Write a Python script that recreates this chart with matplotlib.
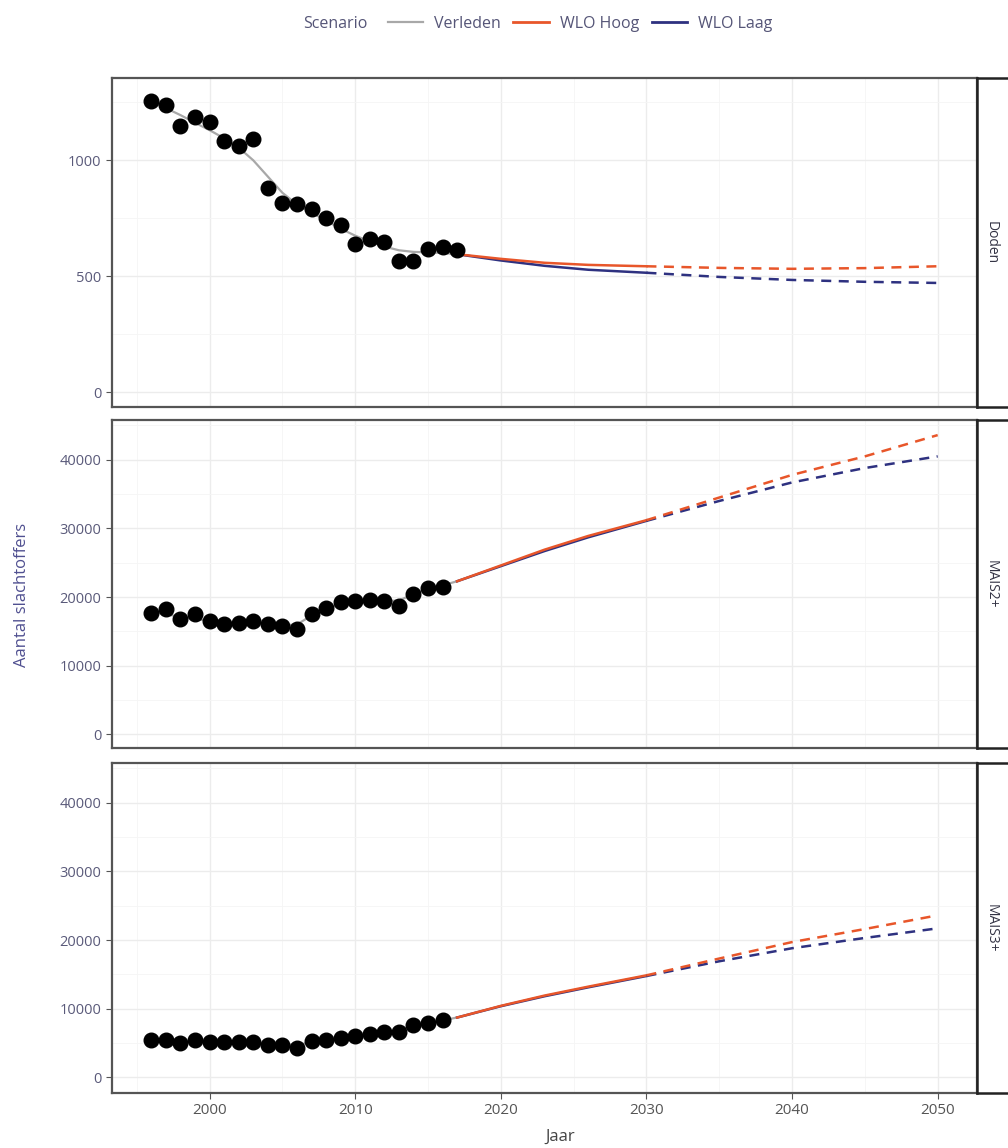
import numpy as np
import matplotlib
matplotlib.use("Agg")
import matplotlib.pyplot as plt
from matplotlib.lines import Line2D

plt.rcParams["font.family"] = ["Open Sans", "DejaVu Sans"]

# ── Observed data ──────────────────────────────────────────────────────────────
years_doden = list(range(1996, 2018))
doden = [1254, 1237, 1148, 1186, 1167, 1083, 1063, 1090, 882, 816, 810,
         790, 750, 720, 639, 660, 648, 565, 565, 619, 626, 612]

years_mais = list(range(1996, 2017))
mais2 = [17700, 18280, 16730, 17600, 16480, 16000, 16240, 16480, 16000, 15850,
         15270, 17600, 18430, 19250, 19390, 19640, 19490, 18670, 20510, 21330,
         21430]
mais3 = [5460, 5460, 4960, 5460, 5110, 5110, 5110, 5110, 4630, 4730, 4290,
         5210, 5460, 5690, 5940, 6230, 6570, 6570, 7550, 7940, 8280]

# ── Verleden (smoothed history) ───────────────────────────────────────────────
years_hist = list(range(1996, 2018))
hist_doden = [1255, 1225, 1195, 1162, 1130, 1095, 1055, 1000, 930, 860, 810,
              775, 740, 705, 675, 650, 628, 612, 605, 603, 600, 595]
hist_mais2 = [17900, 17500, 17100, 16800, 16500, 16300, 16200, 16200, 16100,
              15900, 16000, 17300, 18300, 19000, 19400, 19500, 19400, 19500,
              20400, 21200, 21700, 22300]
hist_mais3 = [5400, 5350, 5250, 5250, 5150, 5100, 5100, 5050, 4900, 4800, 4700,
              5100, 5400, 5700, 5950, 6250, 6550, 6800, 7450, 7950, 8300, 8700]

# ── WLO scenarios ─────────────────────────────────────────────────────────────
years_solid = [2017, 2020, 2023, 2026, 2030]
years_dash = [2030, 2035, 2040, 2045, 2050]

hoog_doden = [595, 575, 558, 549, 543, 536, 532, 535, 543]
laag_doden = [595, 568, 545, 528, 515, 497, 484, 476, 471]
hoog_mais2 = [22300, 24600, 26900, 28900, 31200, 34500, 37800, 40500, 43600]
laag_mais2 = [22300, 24500, 26700, 28700, 31100, 34000, 36700, 38800, 40500]
hoog_mais3 = [8700, 10400, 11900, 13200, 14850, 17300, 19700, 21600, 23600]
laag_mais3 = [8700, 10350, 11800, 13100, 14750, 16900, 18800, 20300, 21700]

C_GRAY = "#a8a8a8"
C_HOOG = "#e8562a"
C_LAAG = "#2e3180"
C_TICK = "#5a5a7a"

panels = [
    ("Doden", years_doden, doden, hist_doden, hoog_doden, laag_doden,
     (-64, 1355), [0, 500, 1000], [250, 750, 1250]),
    ("MAIS2+", years_mais, mais2, hist_mais2, hoog_mais2, laag_mais2,
     (-2000, 45800), [0, 10000, 20000, 30000, 40000], [5000, 15000, 25000, 35000, 45000]),
    ("MAIS3+", years_mais, mais3, hist_mais3, hoog_mais3, laag_mais3,
     (-2300, 45800), [0, 10000, 20000, 30000, 40000], [5000, 15000, 25000, 35000, 45000]),
]

W, H = 1008, 1148
fig = plt.figure(figsize=(W / 100, H / 100), dpi=100)

boxes = [(78, 407), (420, 748), (763, 1093)]
x_left, x_right = 112, 977

for (name, yrs, obs, hist, hoog, laag, ylim, yticks, yminor), (top, bot) in zip(panels, boxes):
    ax = fig.add_axes([x_left / W, 1 - bot / H, (x_right - x_left) / W, (bot - top) / H])
    ax.set_xlim(1993.3, 2052.7)
    ax.set_ylim(*ylim)
    ax.set_xticks([2000, 2010, 2020, 2030, 2040, 2050])
    ax.set_xticks([1995, 2005, 2015, 2025, 2035, 2045], minor=True)
    ax.set_yticks(yticks)
    ax.set_yticks(yminor, minor=True)
    ax.grid(True, which="major", color="#ececec", lw=1.0)
    ax.grid(True, which="minor", color="#f5f5f5", lw=0.6)
    ax.set_axisbelow(True)

    ax.plot(years_hist, hist, color=C_GRAY, lw=1.6, zorder=2)
    ax.plot(years_solid, laag[:5], color=C_LAAG, lw=1.8, zorder=3)
    ax.plot(years_solid, hoog[:5], color=C_HOOG, lw=1.8, zorder=3)
    ax.plot(years_dash, laag[4:], color=C_LAAG, lw=1.8, ls=(0, (4, 3)), zorder=3)
    ax.plot(years_dash, hoog[4:], color=C_HOOG, lw=1.8, ls=(0, (4, 3)), zorder=3)
    ax.plot(yrs, obs, "o", color="black", ms=10.5, zorder=4)

    for s in ax.spines.values():
        s.set_color("#555555")
        s.set_linewidth(1.6)
    ax.tick_params(which="minor", length=0)
    ax.tick_params(which="major", length=4, color="#555555", labelsize=10.5,
                   labelcolor=C_TICK)
    ax.tick_params(axis="x", labelsize=11, labelcolor="#555555")
    if name != "MAIS3+":
        ax.tick_params(axis="x", which="major", length=0, labelbottom=False)

    # right-side strip
    sx = fig.add_axes([x_right / W, 1 - bot / H, 40 / W, (bot - top) / H])
    sx.set_xticks([])
    sx.set_yticks([])
    for s in sx.spines.values():
        s.set_color("#222222")
        s.set_linewidth(1.8)
    fig.text(991 / W, 1 - (top + bot) / 2 / H, name, rotation=-90,
             ha="center", va="center", fontsize=10, color="#333344")

fig.text(22 / W, 1 - 595 / H, "Aantal slachtoffers", rotation=90,
         ha="center", va="center", fontsize=12, color="#4f4f90")
fig.text(560 / W, 1 - 1137 / H, "Jaar", ha="center", va="center",
         fontsize=12, color="#444444")

# legend
fig.text(335 / W, 1 - 24 / H, "Scenario", ha="center", va="center",
         fontsize=11.5, color="#555577")
handles = [Line2D([], [], color=C_GRAY, lw=1.6),
           Line2D([], [], color=C_HOOG, lw=2.0),
           Line2D([], [], color=C_LAAG, lw=2.0)]
leg = fig.legend(handles, ["Verleden", "WLO Hoog", "WLO Laag"], ncol=3,
                 loc="center", bbox_to_anchor=(580 / W, 1 - 24 / H),
                 frameon=False, fontsize=11.5, handlelength=2.2,
                 handletextpad=0.7, columnspacing=0.8)
for t in leg.get_texts():
    t.set_color("#555577")

fig.savefig("out.png", dpi=100, facecolor="white")
